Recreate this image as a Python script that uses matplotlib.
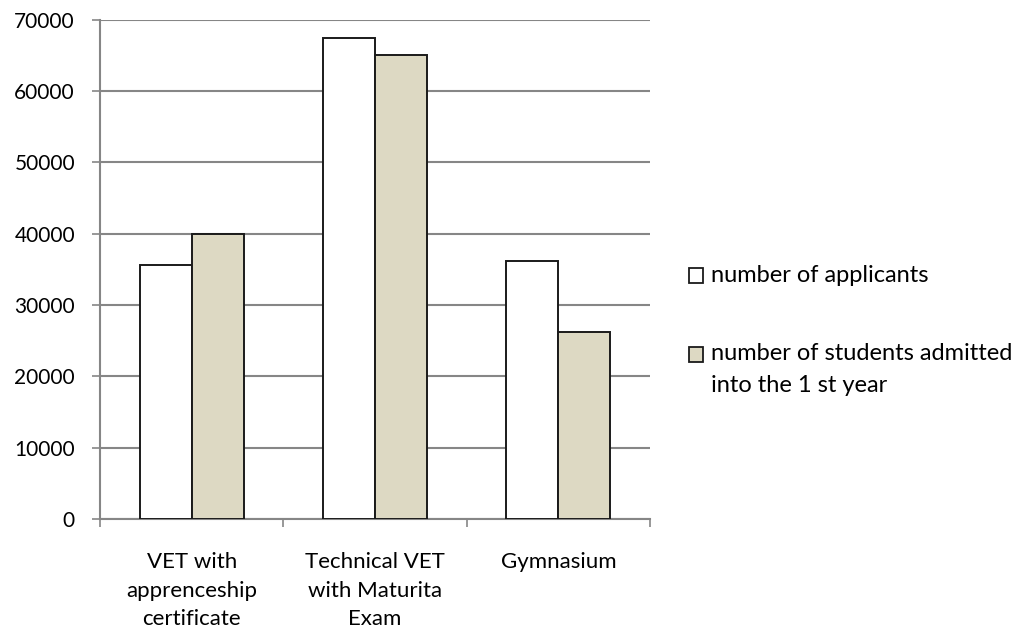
import numpy as np
import matplotlib.pyplot as plt
from matplotlib.patches import Rectangle

plt.rcParams.update({
    "font.family": ["Lato", "DejaVu Sans"],
    "font.size": 15,
})

categories = ["VET with\napprenceship\ncertificate",
              "Technical VET\nwith Maturita\nExam",
              "Gymnasium"]
applicants = [35600, 67450, 36100]
admitted = [39950, 65000, 26200]
series_labels = ["number of applicants",
                 "number of students admitted\ninto the 1 st year"]
y_ticks = [0, 10000, 20000, 30000, 40000, 50000, 60000, 70000]

APPL_COLOR = "#ffffff"
ADM_COLOR = "#ddd9c3"
EDGE_COLOR = "#1a1a1a"
GRID_COLOR = "#868686"

fig = plt.figure(figsize=(10.18, 6.34), dpi=100)
ax = fig.add_axes([0.0982, 0.1814, 0.5403, 0.7878])

x = np.arange(len(categories))
w = 0.284
colors = [APPL_COLOR, ADM_COLOR]
ax.bar(x - w / 2, applicants, w, color=APPL_COLOR, edgecolor=EDGE_COLOR,
       linewidth=1.4, zorder=3)
ax.bar(x + w / 2, admitted, w, color=ADM_COLOR, edgecolor=EDGE_COLOR,
       linewidth=1.4, zorder=3)

ax.set_xlim(-0.5, len(categories) - 0.5)
ax.set_ylim(0, 70000)
ax.set_yticks(y_ticks)
ax.set_yticklabels([str(v) for v in y_ticks])
ax.yaxis.grid(True, color=GRID_COLOR, linewidth=1.5, zorder=0)
ax.set_axisbelow(True)

ax.set_xticks(x)
ax.set_xticklabels(categories, linespacing=1.52, va="top", fontsize=16)
ax.set_xticks(np.arange(len(categories) + 1) - 0.5, minor=True)
ax.tick_params(axis="x", which="major", length=0, pad=24)
ax.tick_params(axis="x", which="minor", length=6, width=1.2, color=GRID_COLOR)
ax.tick_params(axis="y", length=6, width=1.2, color=GRID_COLOR, pad=12)

for side in ["top", "right"]:
    ax.spines[side].set_visible(False)
for side in ["left", "bottom"]:
    ax.spines[side].set_color(GRID_COLOR)
    ax.spines[side].set_linewidth(1.5)

# legend drawn by hand so the swatch lines up with the first text line
leg_x = 689 / 1018
sq_w, sq_h = 14 / 1018, 15 / 634
first_line_y = [275, 354]  # pixel rows (from top) of each entry's first line
for label, color, py in zip(series_labels, colors, first_line_y):
    yc = (634 - py) / 634
    fig.patches.append(Rectangle((leg_x, yc - sq_h / 2), sq_w, sq_h,
                                 transform=fig.transFigure, facecolor=color,
                                 edgecolor=EDGE_COLOR, linewidth=1.3))
    for i, line in enumerate(label.split("\n")):
        fig.text(leg_x + 22 / 1018, yc - i * 31 / 634, line,
                 va="center", ha="left", fontsize=17)

fig.savefig("out.png", dpi=100)
